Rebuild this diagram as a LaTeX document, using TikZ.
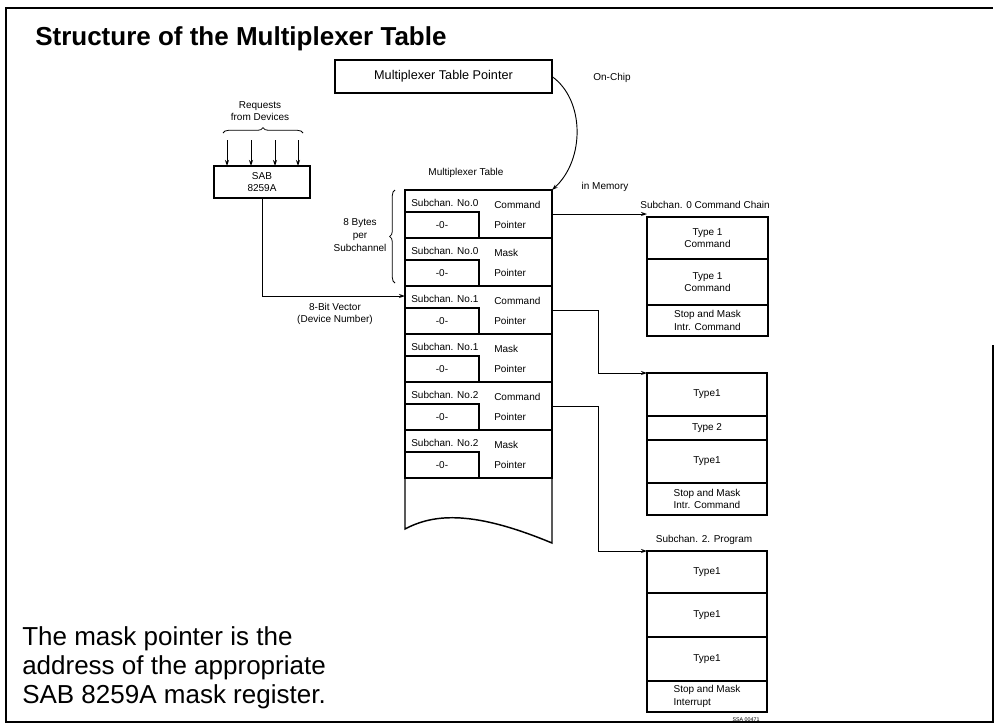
\documentclass[tikz,border=0pt]{standalone}
\usepackage{fontspec}
\setmainfont{Liberation Sans}
\usetikzlibrary{arrows.meta,decorations.pathreplacing}
\begin{document}
\begin{tikzpicture}[x=0.75pt,y=-0.75pt,
  pxbox/.style 2 args={minimum width=#1*0.75pt, minimum height=#2*0.75pt},
  box/.style={draw, line width=1.1pt, inner sep=0pt, outer sep=0pt},
  lbl/.style={font=\fontsize{7.5}{9.5}\selectfont, inner sep=0pt, align=center},
  con/.style={line width=0.7pt},
  arr/.style={-{Stealth[length=4.5pt,width=3pt]}, line width=0.7pt},
  brc/.style={decorate, decoration={brace, amplitude=4pt}, line width=0.6pt}]

\useasboundingbox (0,0) rectangle (995,726);
% frame
\draw[line width=1.5pt] (993,345) -- (993,722) -- (6,722) -- (6,8) -- (993,8);

% title
\node[anchor=base west, inner sep=0pt, font=\bfseries\fontsize{19.5}{22}\selectfont] (title) at (35,45) {Structure of the Multiplexer Table};

% pointer box
\node[box, pxbox={217}{33}, font=\fontsize{9.5}{11}\selectfont] (ptr) at (443.5,76.5) {Multiplexer Table Pointer};
\node[lbl] (onchip) at (612,78) {On-Chip};
\node[lbl] (inmem) at (605,187) {in Memory};
\node[lbl] (mtlabel) at (466,173) {Multiplexer Table};

% requests and SAB
\node[lbl] (req) at (260,111) {Requests\\from Devices};
\draw[brc] (223,133) -- (303,133);
\node[box, pxbox={96}{32}, lbl] (sab) at (262,182) {SAB\\8259A};
\foreach \x [count=\j] in {227,251,275,298} {
  \coordinate (q\j) at (\x,140);
  \draw[arr] (q\j) -- (q\j |- sab.north);
}

% multiplexer table rows
\foreach \i/\t/\k/\n in {0/190/Command/0, 1/238/Mask/0, 2/286/Command/1, 3/334/Mask/1, 4/382/Command/2, 5/430/Mask/2} {
  \node[box, pxbox={147}{48}, anchor=north west] (r\i) at (405,\t) {};
  \node[box, pxbox={74}{26}, anchor=south west] (z\i) at (r\i.south west) {};
  \node[lbl] (zt\i) at (z\i) {-0-};
  \node[lbl, anchor=west] (s\i) at (411,\t+13) {Subchan. No.\n};
  \node[lbl, anchor=west] (k\i) at (494,\t+15) {\k};
  \node[lbl, anchor=west] (p\i) at (494,\t+35) {Pointer};
}
\draw[line width=1.1pt] (r5.south west) -- (405,529) .. controls (435,513) and (475,511) .. (552,543) -- (r5.south east);

% brace and label
\draw[brc] (395,283) -- (395,190);
\node[lbl] (bytes) at (360,235) {8 Bytes\\per\\Subchannel};

% vector line
\coordinate (vecin) at (405,296);
\draw[arr] (sab.south) |- (vecin);
\node[lbl] (vec) at (335,314) {8-Bit Vector\\(Device Number)};

% curve pointer -> table
\draw[arr] (ptr.east) .. controls (585,100) and (585,160) .. (r0.north east);

% chain 0
\node[lbl] (c0lbl) at (705,205) {Subchan. 0 Command Chain};
\node[box, lbl, pxbox={121}{42}, anchor=north west] (c0a) at (647,217) {Type 1\\Command};
\node[box, lbl, pxbox={121}{46}, anchor=north] (c0b) at (c0a.south) {Type 1\\Command};
\node[box, lbl, align=left, pxbox={121}{31}, anchor=north] (c0c) at (c0b.south) {Stop and Mask\\Intr. Command};

% chain 1
\node[box, lbl, pxbox={120}{43}, anchor=north west] (c1a) at (647,373) {Type1};
\node[box, lbl, pxbox={120}{24}, anchor=north] (c1b) at (c1a.south) {Type 2};
\node[box, lbl, pxbox={120}{43}, anchor=north] (c1c) at (c1b.south) {Type1};
\node[box, lbl, align=left, pxbox={120}{32}, anchor=north] (c1d) at (c1c.south) {Stop and Mask\\Intr. Command};

% chain 2
\node[lbl] (c2lbl) at (704,540) {Subchan. 2. Program};
\node[box, lbl, pxbox={120}{42}, anchor=north west] (c2a) at (647,551) {Type1};
\node[box, lbl, pxbox={120}{44}, anchor=north] (c2b) at (c2a.south) {Type1};
\node[box, lbl, pxbox={120}{44}, anchor=north] (c2c) at (c2b.south) {Type1};
\node[box, lbl, align=left, pxbox={120}{31}, anchor=north] (c2d) at (c2c.south) {Stop and Mask\\Interrupt};

\node[inner sep=0pt, font=\fontsize{4}{5}\selectfont] (ssa) at (746,720) {SSA 00471};

% connectors to chains
\draw[arr] (r0.east) -- (r0.east -| c0a.west);
\draw[arr] (r2.east) -- ++(46,0) |- (c1a.north west);
\draw[arr] (r4.east) -- ++(46,0) |- (c2a.north west);

% note
\node[anchor=north west, align=left, inner sep=0pt, font=\fontsize{19.5}{21.75}\selectfont] (note) at (22,626) {The mask pointer is the\\address of the appropriate\\SAB 8259A mask register.};
\end{tikzpicture}
\end{document}
